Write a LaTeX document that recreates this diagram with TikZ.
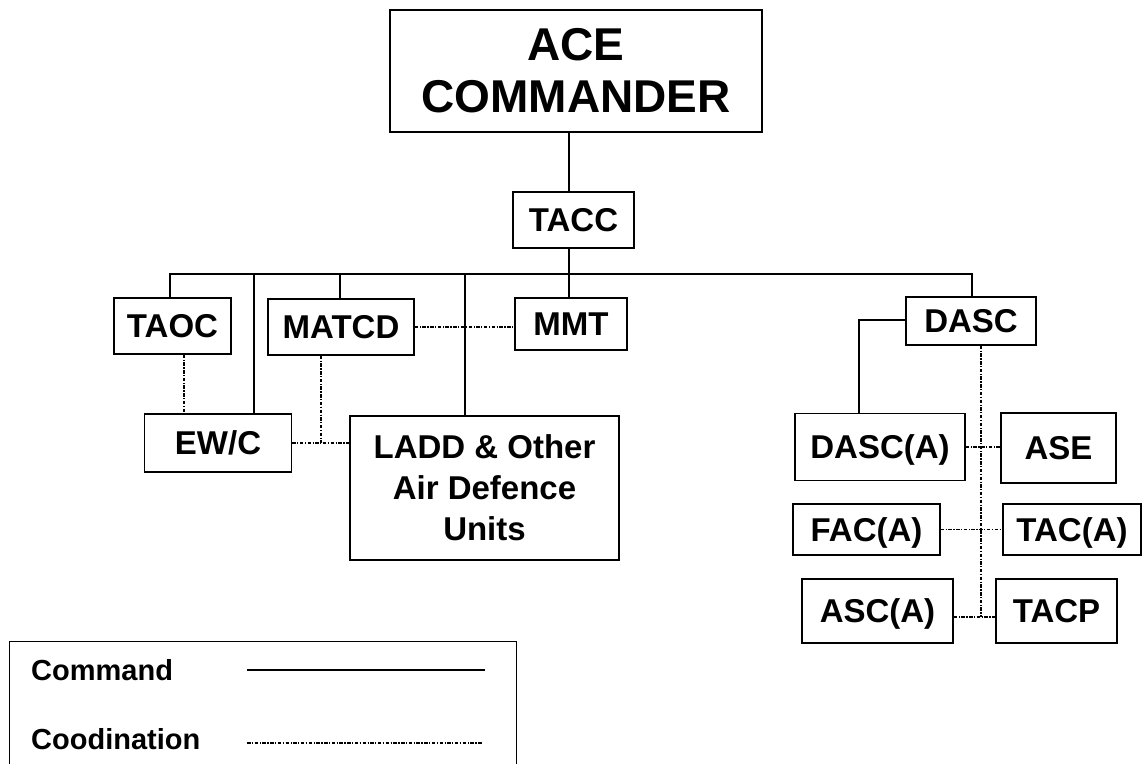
\documentclass[tikz,border=0pt]{standalone}
\usepackage{fontspec}
\setmainfont{Liberation Sans}
\begin{document}
\begin{tikzpicture}[x=1pt,y=-1pt]
\tikzset{
  box/.style={draw, line width=1.3pt, inner sep=0pt, align=center,
    font=\fontsize{33}{41}\selectfont\bfseries},
  onebox/.style={box, text depth=0pt},
  cmd/.style={line width=1.4pt},
  coordl/.style={line width=1.2pt, dash pattern=on 3.5pt off 1.5pt on 1.2pt off 1.5pt},
  legtext/.style={anchor=base west, inner sep=0pt, font=\fontsize{29}{33}\selectfont\bfseries}
}
\useasboundingbox (0,0) rectangle (1143,763);
% boxes
\node[box, minimum width=372pt, minimum height=122pt, font=\fontsize{46}{52}\selectfont\bfseries] (ace) at (576,71) {ACE\\COMMANDER};
\node[onebox, minimum width=121pt, minimum height=56pt] (tacc) at (573.5,220) {TACC};
\node[onebox, minimum width=117pt, minimum height=56pt] (taoc) at (172.5,326) {TAOC};
\node[onebox, minimum width=146pt, minimum height=56pt] (matcd) at (341,327) {MATCD};
\node[onebox, minimum width=112pt, minimum height=52pt] (mmt) at (571,324) {MMT};
\node[onebox, minimum width=130pt, minimum height=48pt] (dasc) at (971,321) {DASC};
\node[onebox, minimum width=147pt, minimum height=58pt] (ewc) at (218,443) {EW/C};
\node[box, minimum width=269pt, minimum height=144pt] (ladd) at (484.5,488) {LADD \& Other\\Air Defence\\Units};
\node[onebox, minimum width=170pt, minimum height=67pt] (dasca) at (880,447) {DASC(A)};
\node[onebox, minimum width=115pt, minimum height=70pt] (ase) at (1058.5,448) {ASE};
\node[onebox, minimum width=147pt, minimum height=51pt] (faca) at (866.5,529.5) {FAC(A)};
\node[onebox, minimum width=138pt, minimum height=51pt] (taca) at (1072,529.5) {TAC(A)};
\node[onebox, minimum width=151pt, minimum height=64pt] (asca) at (877.5,611) {ASC(A)};
\node[onebox, minimum width=121pt, minimum height=64pt] (tacp) at (1056.5,611) {TACP};
% junction coordinates
\coordinate (jt) at (569,274);
\coordinate (busL) at (170,274);
\coordinate (busR) at (972,274);
\coordinate (jew) at (254,274);
\coordinate (jmat) at (340,274);
\coordinate (jlad) at (465,274);
\coordinate (jdasc) at (859,320);
\coordinate (jtaoc) at (184,400);
\coordinate (jm) at (321,443);
\coordinate (jdv) at (981,617);
% command lines
\draw[cmd] (ace.south -| jt) -- (tacc.north -| jt);
\draw[cmd] (tacc.south -| jt) -- (mmt.north -| jt);
\draw[cmd] (taoc.north -| busL) -- (busL) -- (busR) -- (dasc.north -| busR);
\draw[cmd] (jew) -- (ewc.north -| jew);
\draw[cmd] (jmat) -- (matcd.north -| jmat);
\draw[cmd] (jlad) -- (ladd.north -| jlad);
\draw[cmd] (dasc.west |- jdasc) -- (jdasc) -- (dasca.north -| jdasc);
% coordination lines
\draw[coordl] (matcd.east) -- (mmt.west |- matcd.east);
\draw[coordl] (taoc.south -| jtaoc) -- (ewc.north -| jtaoc);
\draw[coordl] (ewc.east) -- (ladd.west |- ewc.east);
\draw[coordl] (matcd.south -| jm) -- (jm);
\draw[coordl] (dasc.south -| jdv) -- (jdv);
\draw[coordl] (dasca.east) -- (ase.west |- dasca.east);
\draw[coordl] (faca.east) -- (taca.west |- faca.east);
\draw[coordl] (asca.east |- jdv) -- (tacp.west |- jdv);
% legend
\node[draw, line width=1.3pt, minimum width=507pt, minimum height=150pt, anchor=north west, inner sep=0pt] (legend) at (9,641) {};
\node[legtext] (lcmd) at (31,680) {Command};
\node[legtext] (lcoo) at (31,749) {Coodination};
\coordinate (l1a) at (247,670);
\coordinate (l1b) at (485,670);
\coordinate (l2a) at (247,743);
\coordinate (l2b) at (483,743);
\draw[line width=1.3pt] (l1a) -- (l1b);
\draw[coordl] (l2a) -- (l2b);
\end{tikzpicture}
\end{document}
